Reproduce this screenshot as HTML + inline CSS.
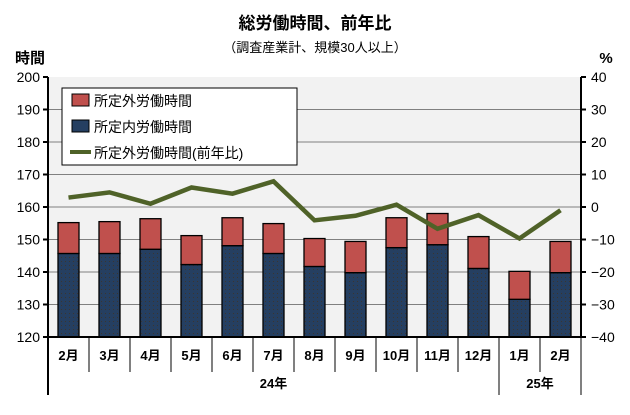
<!DOCTYPE html>
<html><head><meta charset="utf-8"><style>
body{margin:0;background:#fff;font-family:"Liberation Sans","Noto Sans CJK JP",sans-serif}
svg text{font-family:"Liberation Sans","Noto Sans CJK JP",sans-serif}
</style></head><body>
<svg id="c" width="630" height="410">
<defs><pattern id="dots" width="4" height="4" patternUnits="userSpaceOnUse"><rect width="4" height="4" fill="#253f61"/><rect x="1" y="1" width="1" height="1" fill="#3a3530"/></pattern></defs>
<text x="315" y="29" text-anchor="middle" font-size="17" font-weight="bold">総労働時間、前年比</text>
<text x="315" y="52" text-anchor="middle" font-size="13">（調査産業計、規模30人以上）</text>
<text x="30" y="63" text-anchor="middle" font-size="15" font-weight="bold">時間</text>
<text x="606" y="63" text-anchor="middle" font-size="15" font-weight="bold">%</text>
<rect x="48" y="77" width="533" height="260" fill="#f2f2f2"/>
<g id="grid"></g><g id="bars"></g><g id="line"></g><g id="axes"></g>
<g>
<rect x="62" y="88" width="235" height="77" fill="#fff" stroke="#000"/>
<rect x="72" y="94" width="17" height="12" fill="#c0504d" stroke="#000"/>
<text x="94" y="106" font-size="14">所定外労働時間</text>
<rect x="72" y="120" width="17" height="12" fill="#253f61" stroke="#000"/>
<text x="94" y="132" font-size="14">所定内労働時間</text>
<line x1="70" y1="152" x2="91" y2="152" stroke="#4f6228" stroke-width="4"/>
<text x="94" y="158" font-size="14">所定外労働時間(前年比)</text>
</g>
</svg>
<script>
const categories=["2月","3月","4月","5月","6月","7月","8月","9月","10月","11月","12月","1月","2月"];
const scheduled=[145.7,145.7,147.0,142.3,148.1,145.7,141.7,139.8,147.5,148.4,141.1,131.6,139.8];
const total=[155.2,155.5,156.4,151.2,156.7,154.9,150.3,149.4,156.7,158.0,150.9,140.2,149.4];
const yoy=[2.9,4.5,1.0,6.0,4.1,7.9,-4.1,-2.7,0.7,-6.7,-2.5,-9.7,-1.0];
const leftTicks=[120,130,140,150,160,170,180,190,200];
const rightTicks=[-40,-30,-20,-10,0,10,20,30,40];
const years=[{label:"24年",from:0,to:11},{label:"25年",from:11,to:13}];
const NS="http://www.w3.org/2000/svg";
const X0=48,X1=581,Y0=337,Y1=77,slot=(X1-X0)/categories.length;
const yL=v=>Y0-(v-120)/80*(Y0-Y1), yR=v=>Y0-(v+40)/80*(Y0-Y1), xC=i=>X0+slot*(i+0.5);
function mk(t,a,p){const e=document.createElementNS(NS,t);for(const k in a)e.setAttribute(k,a[k]);p.appendChild(e);return e;}
const g=document.getElementById('grid'),b=document.getElementById('bars'),l=document.getElementById('line'),ax=document.getElementById('axes');
leftTicks.forEach((v,i)=>{
 if(i>0&&i<leftTicks.length-1){const gl=mk('line',{x1:X0,x2:X1,y1:yL(v),y2:yL(v),stroke:'#808080'},g);
 
 }
 const t=mk('text',{x:40,y:yL(v)+5,'text-anchor':'end','font-size':'14'},ax);t.textContent=v;
 
 
 mk('line',{x1:X0-5,x2:X0,y1:yL(v),y2:yL(v),stroke:'#000','stroke-width':2},ax);
});
rightTicks.forEach(v=>{
 const t=mk('text',{x:591,y:yR(v)+5,'font-size':'14'},ax);t.textContent=(v<0?'\u2212'+(-v):v);
 
 
 mk('line',{x1:X1,x2:X1+5,y1:yR(v),y2:yR(v),stroke:'#000','stroke-width':2},ax);
});
categories.forEach((c,i)=>{
 const x=xC(i)-10.5;
 const r1=mk('rect',{x:x,y:yL(scheduled[i]),width:21,height:Y0-yL(scheduled[i]),fill:'url(#dots)',stroke:'#000','stroke-width':1.3},b);
 
 
 const r2=mk('rect',{x:x,y:yL(total[i]),width:21,height:yL(scheduled[i])-yL(total[i]),fill:'#c0504d',stroke:'#000','stroke-width':1.3},b);
 
 
 const t=mk('text',{x:xC(i),y:360,'text-anchor':'middle','font-size':'13','font-weight':'bold'},ax);t.textContent=c;
 
 
 mk('line',{x1:X0+slot*(i+1),x2:X0+slot*(i+1),y1:Y0,y2:372,stroke:'#000'},ax);
});
const pl=mk('polyline',{points:yoy.map((v,i)=>xC(i)+','+yR(v)).join(' '),fill:'none',stroke:'#4f6228','stroke-width':4.5},l);


years.forEach(y=>{
 const t=mk('text',{x:X0+slot*(y.from+y.to)/2,y:388,'text-anchor':'middle','font-size':'13','font-weight':'bold'},ax);t.textContent=y.label;
 
 
 mk('line',{x1:X0+slot*y.to,x2:X0+slot*y.to,y1:Y0,y2:395,stroke:'#000'},ax);
});
mk('line',{x1:X0,x2:X0,y1:Y1,y2:395,stroke:'#000','stroke-width':2},ax);
mk('line',{x1:X1,x2:X1,y1:Y1,y2:Y0,stroke:'#000','stroke-width':2},ax);
mk('line',{x1:X0,x2:X1,y1:Y0,y2:Y0,stroke:'#000','stroke-width':2},ax);
</script>
</body></html>
